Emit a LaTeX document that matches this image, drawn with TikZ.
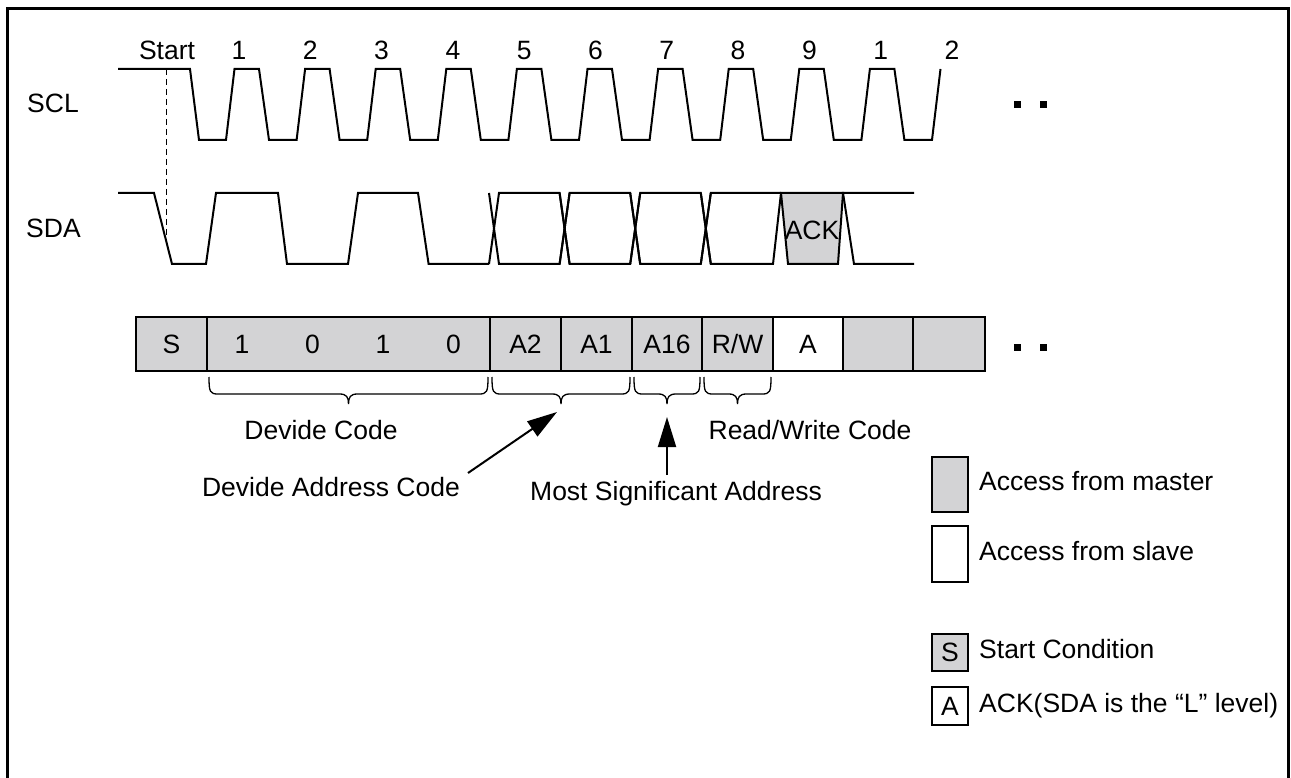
\documentclass[tikz,border=0pt]{standalone}
\usepackage{fontspec}
\setmainfont{Liberation Sans}
\usetikzlibrary{arrows.meta}
\definecolor{cellgray}{RGB}{211,211,213}
\newcommand\ibrc[2]{%
  \draw[bracel] (#1,377) .. controls (#1,392) and ({#1+1},394) .. ({#1+9},394)
    -- ({(#1+#2)/2-9},394) .. controls ({(#1+#2)/2-2},394) and ({(#1+#2)/2},397) .. ({(#1+#2)/2},404)
    .. controls ({(#1+#2)/2},397) and ({(#1+#2)/2+2},394) .. ({(#1+#2)/2+9},394)
    -- ({#2-9},394) .. controls ({#2-1},394) and (#2,392) .. (#2,377);}
\begin{document}
\begin{tikzpicture}[x=1pt,y=-1pt,
  every node/.style={font=\fontsize{26.5}{32}\selectfont, inner sep=0pt},
  wave/.style={line width=2pt, line join=miter},
  cellbox/.style={draw, line width=2.5pt, fill=cellgray, minimum height=54pt, anchor=center},
  lbl/.style={anchor=base},
  lbw/.style={anchor=base west},
  bracel/.style={line width=1.3pt},
  arr/.style={line width=2pt, -{Triangle[length=30pt,width=18pt]}},
  legbox/.style={draw, line width=2.5pt, minimum width=36pt, inner sep=0pt},
  dotsq/.style={fill=black, minimum size=7pt, inner sep=0pt}]
\useasboundingbox (0,0) rectangle (1291,778);

% frame
\draw[line width=3pt] (7,800) -- (7,9) -- (1288,9) -- (1288,800);

% labels of signals
\node[lbw] (scl) at (27,113) {SCL};
\node[lbw] (sda) at (26,238) {SDA};
\node[lbl] (st) at (167,60) {Start};
\foreach \i/\t in {1/1,2/2,3/3,4/4,5/5,6/6,7/7,8/8,9/9,10/1,11/2}
  \node[lbl] (n\i) at ({239+71.3*(\i-1)},60) {\t};

% SCL
\draw[wave] (118,69) -- (190,69) -- (199,140)
  \foreach \k in {0,...,9}{ -- ({226+70.6*\k},140) -- ({234.5+70.6*\k},69) -- ({259+70.6*\k},69) -- ({269+70.6*\k},140)}
  -- (932,140) -- (940.5,69);

% dashed start marker
\draw[line width=1pt, dash pattern=on 6pt off 4pt] (166,69) -- (166,238);

% SDA
\draw[wave] (118,193) -- (154,193) -- (172,264) -- (206,264) -- (216,193) -- (278,193) -- (287,264)
  -- (348,264) -- (358,193) -- (418,193) -- (428.6,264) -- (489,264);
\foreach \k in {0,1,2}{
  \pgfmathsetmacro\b{489+70.6*\k}
  \draw[wave] (\b,264) -- ({\b+10},193) -- ({\b+70.6},193) -- ({\b+80.6},264);
  \draw[wave] (\b,193) -- ({\b+10},264) -- ({\b+70.6},264) -- ({\b+80.6},193);
}
\draw[wave] (700.8,264) -- (710.8,193) -- (781,193);
\draw[wave] (700.8,193) -- (710.8,264) -- (773,264) -- (781,193);
\draw[wave, fill=cellgray] (781,193) -- (788,264) -- (838,264) -- (843,193) -- cycle;
\draw[wave] (914,264) -- (854,264) -- (843,193) -- (914,193);
\node[lbl] (ack) at (812,240) {ACK};

% dots
\node[dotsq] (d1) at (1017,105) {};
\node[dotsq] (d2) at (1043,105) {};
\node[dotsq] (d3) at (1017,347) {};
\node[dotsq] (d4) at (1043,347) {};

% register bar
\node[cellbox, minimum width=71pt] (cS) at (171.5,344) {S};
\node[cellbox, minimum width=283pt] (cDev) at (348.5,344) {};
\node[cellbox, minimum width=71pt] (cA2) at (525.5,344) {A2};
\node[cellbox, minimum width=71pt] (cA1) at (596.5,344) {A1};
\node[cellbox, minimum width=70pt] (cA16) at (667,344) {A16};
\node[cellbox, minimum width=71pt] (cRW) at (737.5,344) {R/W};
\node[cellbox, minimum width=70pt, fill=white] (cA) at (808,344) {A};
\node[cellbox, minimum width=70pt] (cE1) at (878,344) {};
\node[cellbox, minimum width=72pt] (cE2) at (949,344) {};
\node (b1) at (242,344) {1};
\node (b2) at (312.5,344) {0};
\node (b3) at (383,344) {1};
\node (b4) at (453.5,344) {0};

% braces
\ibrc{209}{488}
\ibrc{492}{630}
\ibrc{634}{700}
\ibrc{704}{771}

% annotations
\node[lbl] (devc) at (321,439) {Devide Code};
\node[lbl] (rwc) at (810,439) {Read/Write Code};
\node[lbl] (dac) at (331,496) {Devide Address Code};
\node[lbl] (msa) at (676,500) {Most Significant Address};
\coordinate (dacT) at (468,473);
\coordinate (dacH) at (557,412);
\coordinate (msaT) at (667,475);
\coordinate (msaH) at (667,417);
\draw[arr] (dacT) -- (dacH);
\draw[arr] (msaT) -- (msaH);

% legend
\node[legbox, fill=cellgray, minimum height=55pt] (lm) at (950,484.5) {};
\node[legbox, fill=white, minimum height=56pt] (ls) at (950,554) {};
\node[lbw] (lmt) at (979,490) {Access from master};
\node[lbw] (lst) at (979,560) {Access from slave};
\node[legbox, fill=cellgray, minimum height=37pt] (lS) at (950,652.5) {S};
\node[legbox, fill=white, minimum height=38pt] (lA) at (950,706) {A};
\node[lbw] (lSt) at (979,658) {Start Condition};
\node[lbw] (lAt) at (979,712) {ACK(SDA is the “L” level)};
\end{tikzpicture}
\end{document}
